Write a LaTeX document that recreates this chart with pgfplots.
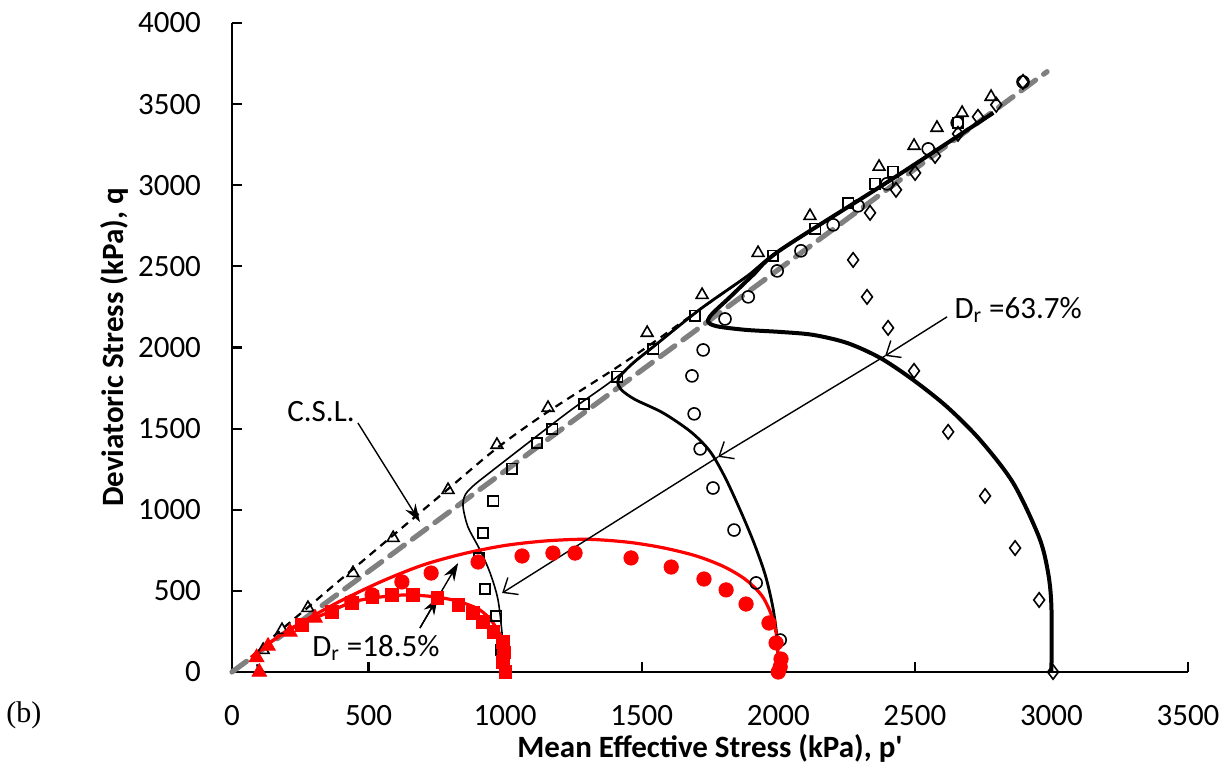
\documentclass[border=0pt]{standalone}
\usepackage{fontspec}
\setmainfont{Carlito}
\newfontfamily\timesfont{Liberation Serif}
\usepackage{pgfplots}
\pgfplotsset{compat=1.18}
\usetikzlibrary{arrows.meta}

\begin{document}
\begin{tikzpicture}
\begin{axis}[
  width=478pt, height=324.5pt, scale only axis,
  xmin=0, xmax=3500, ymin=0, ymax=4000,
  xtick={0,500,...,3500}, ytick={0,500,...,4000},
  axis lines*=left,
  axis line style={line width=1.3pt},
  tick align=inside,
  major tick length=5pt,
  tick style={line width=1.1pt, black},
  ticklabel style={font=\fontsize{15.5}{18}\selectfont},
  /pgf/number format/assume math mode=true,
  /pgf/number format/set thousands separator={},
  xticklabel style={yshift=-13pt},
  yticklabel style={xshift=-12pt},
  xlabel={Mean Effective Stress (kPa), p\textquotesingle},
  ylabel={Deviatoric Stress (kPa), q},
  every axis x label/.style={at={(axis description cs:0.5,-0.117)}, anchor=center,
    font=\fontsize{15.5}{18}\selectfont\bfseries},
  every axis y label/.style={at={(axis description cs:-0.1234,0.5)}, rotate=90, anchor=center,
    font=\fontsize{15.5}{18}\selectfont\bfseries},
  clip=false,
]
\coordinate (SW) at (rel axis cs:0,0);
\coordinate (NE) at (rel axis cs:1,1);

% critical state line
\addplot[gray, line width=2.6pt, dash pattern=on 9pt off 5pt, line cap=round]
  coordinates {(0,0) (2984,3700)};

% simulations, dense sand
\addplot[black, line width=1.1pt, dash pattern=on 4pt off 3pt, smooth]
  coordinates {(100,0) (105,140) (300,430) (500,715) (787,1122) (970,1380) (1153,1600)
  (1395,1862) (1520,2004) (1714,2236) (1886,2440) (2007,2600) (2400,3020) (2787,3446)};
\addplot[black, line width=0.8pt, smooth]
  coordinates {(1000,0) (990,216) (974,444) (945,610) (908,752) (864,894) (846,1017)
  (852,1085) (879,1141) (956,1245) (1227,1597) (1395,1800) (1542,2004) (1714,2236)
  (1886,2440) (2007,2600) (2400,3020) (2787,3446)};
\addplot[black, line width=1.4pt, smooth]
  coordinates {(2000,0) (1996,200) (1980,400) (1952,600) (1910,800) (1860,1000)
  (1805,1200) (1750,1360) (1680,1480) (1578,1597) (1475,1680) (1425,1740) (1412,1790)
  (1427,1835) (1472,1910) (1542,2004) (1714,2236) (1886,2440) (2007,2600) (2400,3020)
  (2787,3446)};
\addplot[black, line width=2pt, smooth]
  coordinates {(3000,0) (3000,400) (2988,610) (2955,830) (2860,1165) (2739,1430)
  (2618,1634) (2494,1800) (2373,1936) (2252,2028) (2127,2078) (2007,2096) (1886,2108)
  (1787,2127) (1750,2146) (1743,2170) (1761,2213) (1824,2312) (1908,2448) (2007,2600)
  (2400,3020) (2787,3446)};

% test data, dense sand
\addplot[only marks, mark=triangle, mark size=3.4pt, mark options={black, line width=0.8pt}]
  coordinates {(100,0) (114,136) (183,259) (278,395) (443,610) (590,826) (791,1122)
  (970,1400) (1157,1628) (1520,2090) (1721,2324) (1926,2583) (2116,2811) (2369,3114)
  (2497,3243) (2581,3354) (2673,3446) (2779,3545)};
\addplot[only marks, mark=square, mark size=2.6pt, mark options={black, line width=0.8pt}]
  coordinates {(1000,0) (985,136) (967,345) (926,512) (904,703) (919,857) (956,1054)
  (1025,1252) (1117,1412) (1172,1498) (1289,1652) (1410,1819) (1542,1991) (1695,2195)
  (1981,2565) (2135,2731) (2256,2891) (2354,3009) (2420,3083) (2658,3385)};
\addplot[only marks, mark=o, mark size=3pt, mark options={black, line width=0.8pt}]
  coordinates {(2000,0) (2007,197) (1919,549) (1838,875) (1761,1134) (1714,1375)
  (1692,1591) (1684,1825) (1725,1985) (1805,2176) (1890,2312) (1996,2472) (2083,2596)
  (2201,2756) (2292,2873) (2398,3009) (2549,3224) (2655,3385) (2896,3637)};
\addplot[only marks, mark=diamond, mark size=3.6pt, mark options={black, line width=0.8pt}]
  coordinates {(3006,0) (2955,444) (2867,764) (2757,1085) (2622,1480) (2497,1856)
  (2402,2121) (2325,2312) (2274,2540) (2336,2830) (2431,2972) (2501,3076) (2574,3181)
  (2658,3317) (2731,3422) (2798,3496) (2896,3637)};

% simulations, loose sand
\addplot[red, line width=1.6pt, smooth]
  coordinates {(2000,0) (1996,200) (1975,350) (1940,470) (1880,570) (1800,650)
  (1700,715) (1580,765) (1450,800) (1300,818) (1150,808) (1000,780) (850,730)
  (700,660) (550,560) (400,440) (280,330) (180,230) (100,130) (70,90)};
\addplot[red, line width=1.6pt, smooth]
  coordinates {(1000,0) (992,185) (956,302) (908,382) (835,432) (751,462) (641,475)
  (542,462) (443,432) (348,364) (260,302) (180,230) (100,130) (70,90)};

% test data, loose sand
\addplot[only marks, mark=*, mark size=3.6pt, red]
  coordinates {(439,432) (513,475) (622,555) (729,610) (901,678) (1062,715) (1175,733)
  (1256,733) (1461,703) (1608,647) (1728,573) (1809,506) (1882,419) (1966,302)
  (1992,179) (2010,80) (2007,31) (2000,0)};
\addplot[only marks, mark=square*, mark size=3.1pt, red]
  coordinates {(256,290) (366,370) (439,425) (513,462) (586,475) (663,475) (751,456)
  (828,413) (882,364) (919,308) (956,247) (992,185) (995,120) (992,62) (1000,0)};
\addplot[only marks, mark=triangle*, mark size=4.2pt, red]
  coordinates {(100,0) (90,90) (132,160) (212,247) (304,333)};

% annotations
\draw[line width=0.7pt, -{Stealth[length=9pt,width=6pt,inset=3pt]}]
  (axis cs:461,1535) -- (axis cs:688,925);
\node[font=\fontsize{15.5}{18}\selectfont] at (axis cs:326,1603) {C.S.L.};

\draw[line width=0.7pt, -{Stealth[length=9pt,width=6pt,inset=3pt]}]
  (axis cs:688,271) -- (axis cs:754,462);
\draw[line width=0.7pt, -{Stealth[length=9pt,width=6pt,inset=3pt]}]
  (axis cs:688,271) -- (axis cs:828,672);
\node[font=\fontsize{15.5}{18}\selectfont] at (axis cs:527,148) {D\textsubscript{r} =18.5\%};

\draw[line width=0.7pt, -{Straight Barb[length=6pt,width=10pt]}]
  (axis cs:2618,2189) -- (axis cs:2391,1948);
\draw[line width=0.7pt, -{Straight Barb[length=6pt,width=10pt]}]
  (axis cs:2391,1948) -- (axis cs:1780,1326);
\draw[line width=0.7pt, -{Straight Barb[length=6pt,width=10pt]}]
  (axis cs:1780,1326) -- (axis cs:989,487);
\node[font=\fontsize{15.5}{18}\selectfont] at (axis cs:2878,2232) {D\textsubscript{r} =63.7\%};

\node[font=\timesfont\fontsize{15}{18}\selectfont] at (axis cs:-762,-265) {(b)};
\end{axis}
\pgfresetboundingbox
\path[use as bounding box] ([shift={(-116pt,-47.5pt)}]SW) rectangle ([shift={(22pt,11.5pt)}]NE);
\end{tikzpicture}
\end{document}
